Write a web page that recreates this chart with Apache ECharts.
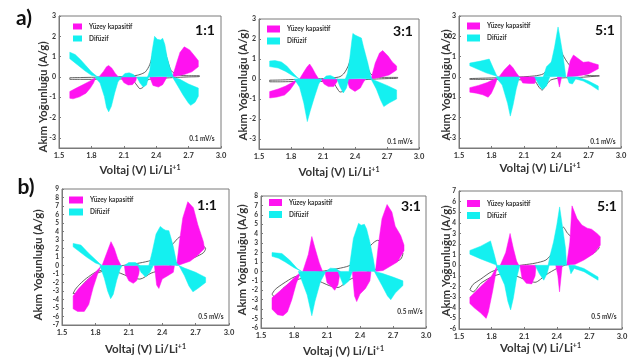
<!DOCTYPE html>
<html><head><meta charset="utf-8">
<script src="https://cdn.jsdelivr.net/npm/echarts@6/dist/echarts.min.js"></script>
<style>html,body{margin:0;padding:0;background:#fff}#c{width:638px;height:363px}</style>
</head><body><div id="c"></div>
<script>
// ---- tick labels ----
const xTicks = [1.5, 1.8, 2.1, 2.4, 2.7, 3.0];
const yTicksA = [-3, -2, -1, 0, 1, 2, 3];
const yTicksB1 = [-7,-6,-5,-4,-3,-2,-1,0,1,2,3,4,5,6,7,8,9];
const yTicksB3 = [-6,-5,-4,-3,-2,-1,0,1,2,3,4,5,6,7,8];
const yTicksB5 = [-6,-5,-4,-3,-2,-1,0,1,2,3,4,5,6,7];
const ratios = ['1:1', '3:1', '5:1', '1:1', '3:1', '5:1'];
const rates = ['0.1 mV/s', '0.1 mV/s', '0.1 mV/s', '0.5 mV/s', '0.5 mV/s', '0.5 mV/s'];
const seriesNames = ['Yüzey kapasitif', 'Difüzif'];

// ---- panel a) 1:1 ----
const p1Mag = [
 [[1.6,-0.72],[1.66,-0.55],[1.72,-0.39],[1.78,-0.22],[1.84,-0.03],[1.82,-0.3],[1.79,-0.55],[1.75,-0.8],[1.69,-0.98],[1.63,-1.08],[1.6,-1.05]],
 [[1.87,0],[1.91,0.26],[1.94,0.5],[1.96,0.56],[1.99,0.43],[2.02,0.18],[2.05,0]],
 [[2.07,0],[2.1,-0.28],[2.14,-0.4],[2.18,-0.38],[2.21,-0.2],[2.22,0]],
 [[2.34,0],[2.37,-0.42],[2.42,-0.5],[2.46,-0.38],[2.49,-0.1],[2.5,0]],
 [[2.55,0],[2.59,0.7],[2.62,1.2],[2.66,1.48],[2.71,1.33],[2.76,1.0],[2.79,0.8],[2.79,0.5],[2.73,0.25],[2.66,0.12],[2.59,0.04]]
];
const p1Cyan = [
 [[1.6,1.22],[1.65,1.1],[1.7,0.85],[1.75,0.55],[1.8,0.25],[1.85,0.03],[1.87,0],[1.8,0.08],[1.74,0.3],[1.67,0.6],[1.6,0.9]],
 [[1.83,0],[1.88,-0.3],[1.92,-0.97],[1.94,-1.5],[1.96,-1.72],[1.985,-1.45],[2.015,-0.8],[2.045,-0.25],[2.08,0]],
 [[2.08,0],[2.11,0.17],[2.15,0.2],[2.19,0.12],[2.21,0]],
 [[2.22,0],[2.25,-0.3],[2.28,-0.5],[2.31,-0.4],[2.33,0]],
 [[2.32,0],[2.34,0.3],[2.36,1.2],[2.385,2.0],[2.41,1.85],[2.44,1.82],[2.46,1.9],[2.48,1.6],[2.5,1.0],[2.53,0.4],[2.56,0],[2.45,0.02]],
 [[2.55,0],[2.6,-0.45],[2.65,-0.9],[2.7,-1.3],[2.72,-1.4],[2.76,-1.25],[2.79,-0.95],[2.79,-0.55],[2.7,-0.35],[2.62,-0.12]]
];
const p1Line = [[1.6,-0.04],[1.7,-0.03],[1.8,-0.02],[1.9,-0.01],[2.0,0],[2.1,0.02],[2.2,0.06],[2.25,0.12],[2.3,0.25],[2.34,0.6],[2.38,1.3],[2.42,1.7],[2.46,1.6],[2.5,0.9],[2.54,0.3],[2.6,0.1],[2.7,0.06],[2.8,0.06],[2.8,0.02],[2.7,0.0],[2.6,-0.02],[2.5,-0.05],[2.4,-0.08],[2.32,-0.15],[2.28,-0.5],[2.25,-0.58],[2.22,-0.4],[2.18,-0.15],[2.1,-0.1],[2.0,-0.1],[1.9,-0.1],[1.8,-0.12],[1.7,-0.12],[1.6,-0.12],[1.6,-0.04]];

// ---- panel a) 3:1 ----
const p2Mag = [
 [[1.6,-0.63],[1.68,-0.5],[1.75,-0.35],[1.82,-0.15],[1.86,0],[1.83,-0.25],[1.79,-0.55],[1.74,-0.8],[1.67,-0.9],[1.6,-0.95]],
 [[1.88,0],[1.92,0.35],[1.95,0.6],[1.975,0.75],[2.0,0.55],[2.03,0.25],[2.06,0]],
 [[2.08,0],[2.11,-0.25],[2.15,-0.38],[2.2,-0.38],[2.23,-0.15],[2.24,0]],
 [[2.32,0],[2.35,-0.45],[2.4,-0.62],[2.45,-0.45],[2.48,-0.15],[2.5,0]],
 [[2.55,0],[2.59,0.8],[2.63,1.3],[2.66,1.42],[2.71,1.15],[2.75,0.85],[2.79,0.65],[2.79,0.45],[2.72,0.2],[2.63,0.08]]
];
const p2Cyan = [
 [[1.6,0.9],[1.65,0.92],[1.71,0.85],[1.76,0.65],[1.81,0.35],[1.86,0.08],[1.88,0],[1.82,0.15],[1.75,0.38],[1.68,0.55],[1.6,0.62]],
 [[1.83,0],[1.88,-0.4],[1.92,-1.2],[1.953,-2.13],[1.98,-1.6],[2.02,-0.9],[2.06,-0.25],[2.09,0]],
 [[2.1,0],[2.13,0.15],[2.17,0.18],[2.2,0.1],[2.22,0]],
 [[2.23,0],[2.26,-0.4],[2.29,-0.7],[2.32,-0.45],[2.34,0]],
 [[2.31,0],[2.33,0.3],[2.35,1.0],[2.37,1.9],[2.38,2.28],[2.4,2.2],[2.43,2.12],[2.46,2.05],[2.48,1.6],[2.52,0.8],[2.55,0.1],[2.56,0],[2.45,0.02]],
 [[2.55,0],[2.6,-0.5],[2.64,-1.05],[2.67,-1.38],[2.72,-1.2],[2.79,-1.0],[2.79,-0.55],[2.7,-0.32],[2.6,-0.1]]
];
const p2Line = [[1.6,-0.06],[1.7,-0.05],[1.8,-0.03],[1.9,-0.02],[2.0,0],[2.1,0.02],[2.2,0.06],[2.26,0.12],[2.3,0.3],[2.34,0.7],[2.38,1.4],[2.42,1.8],[2.46,1.7],[2.5,1.0],[2.54,0.3],[2.6,0.1],[2.7,0.08],[2.8,0.08],[2.8,0.04],[2.7,0.02],[2.6,0.0],[2.5,-0.03],[2.4,-0.07],[2.33,-0.15],[2.29,-0.6],[2.26,-0.65],[2.23,-0.45],[2.19,-0.15],[2.1,-0.12],[2.0,-0.12],[1.9,-0.12],[1.8,-0.13],[1.7,-0.14],[1.6,-0.14],[1.6,-0.06]];

// ---- panel a) 5:1 ----
const p3Mag = [
 [[1.6,-0.53],[1.68,-0.42],[1.76,-0.28],[1.83,-0.1],[1.86,0],[1.83,-0.45],[1.8,-0.8],[1.77,-1.0],[1.72,-0.88],[1.66,-0.8],[1.6,-0.75]],
 [[1.87,0],[1.92,0.35],[1.97,0.62],[2.0,0.45],[2.03,0.2],[2.06,0]],
 [[2.06,0],[2.09,-0.3],[2.15,-0.32],[2.2,-0.32],[2.22,0]],
 [[2.41,0],[2.43,-0.5],[2.45,0]],
 [[2.5,0],[2.53,0.8],[2.56,1.08],[2.6,0.92],[2.65,0.72],[2.7,0.75],[2.75,0.66],[2.79,0.6],[2.79,0.4],[2.7,0.15],[2.6,0.04]]
];
const p3Cyan = [
 [[1.6,0.68],[1.7,0.78],[1.78,0.88],[1.82,0.4],[1.85,0.05],[1.87,0],[1.75,0.2],[1.6,0.55]],
 [[1.84,0],[1.9,-0.4],[1.95,-1.3],[1.975,-1.93],[2.0,-1.4],[2.03,-0.6],[2.06,0]],
 [[2.2,0],[2.24,-0.4],[2.27,-0.62],[2.31,-0.45],[2.34,0]],
 [[2.28,0],[2.31,0.5],[2.355,0.74],[2.385,1.47],[2.417,2.46],[2.43,2.1],[2.46,1.15],[2.49,0],[2.4,0.02]],
 [[2.5,0],[2.52,-0.3],[2.55,-0.35],[2.58,-0.1],[2.65,-0.2],[2.72,-0.4],[2.79,-0.65],[2.79,-0.45],[2.7,-0.2],[2.6,0]]
];
const p3Line = [[1.6,-0.08],[1.8,-0.05],[2.0,-0.02],[2.2,0.05],[2.28,0.15],[2.34,0.5],[2.38,1.0],[2.42,1.6],[2.46,1.1],[2.52,0.6],[2.6,0.25],[2.68,0.08],[2.8,0.05],[2.8,0.02],[2.6,-0.03],[2.45,-0.05],[2.35,-0.15],[2.3,-0.45],[2.27,-0.65],[2.24,-0.5],[2.2,-0.2],[2.1,-0.15],[1.9,-0.12],[1.6,-0.12],[1.6,-0.08]];

// ---- panel b) 1:1 ----
const p4Mag = [
 [[1.6,-3.6],[1.65,-2.7],[1.72,-1.8],[1.8,-0.8],[1.85,-0.1],[1.82,-1.0],[1.78,-2.6],[1.74,-4.6],[1.7,-5.4],[1.64,-5.4],[1.6,-5.1]],
 [[1.86,0],[1.9,1.4],[1.94,2.8],[1.97,2.0],[2.0,0.8],[2.03,0]],
 [[2.06,0],[2.07,-1.0],[2.1,-1.8],[2.14,-2.1],[2.17,-1.8],[2.19,-1.0],[2.2,0]],
 [[2.33,0],[2.35,-2.3],[2.37,-2.7],[2.4,-1.6],[2.45,-1.2],[2.5,-0.8],[2.51,0]],
 [[2.53,0],[2.555,2.8],[2.585,5.6],[2.63,7.5],[2.68,6.8],[2.72,4.8],[2.77,2.8],[2.78,2.0],[2.72,1.2],[2.65,0.5],[2.56,0.1]]
];
const p4Cyan = [
 [[1.6,2.6],[1.67,2.4],[1.74,1.44],[1.8,0.7],[1.84,0.2],[1.86,0],[1.8,0.3],[1.72,1.0],[1.65,1.7],[1.6,2.2]],
 [[1.84,0],[1.88,-1.5],[1.91,-3.0],[1.937,-3.9],[1.96,-3.4],[1.99,-1.8],[2.02,-0.5],[2.04,0]],
 [[2.06,0],[2.1,0.35],[2.16,0.35],[2.2,0]],
 [[2.18,0],[2.21,-0.8],[2.25,-1.35],[2.29,-0.8],[2.32,0]],
 [[2.28,0],[2.31,1.6],[2.345,3.7],[2.383,4.6],[2.41,4.3],[2.43,4.15],[2.46,4.1],[2.48,3.2],[2.5,2.2],[2.53,0.3],[2.55,0],[2.42,0.05]],
 [[2.55,0],[2.6,-1.2],[2.64,-2.4],[2.676,-3.1],[2.72,-2.7],[2.79,-2.0],[2.79,-1.4],[2.7,-0.8],[2.6,-0.3]]
];
const p4Line = [[1.6,-3.3],[1.62,-2.8],[1.66,-2.2],[1.72,-1.5],[1.8,-0.8],[1.9,-0.4],[2.0,-0.1],[2.1,0.1],[2.2,0.3],[2.3,0.6],[2.4,1.2],[2.5,2.6],[2.55,3.3],[2.6,3.5],[2.66,3.0],[2.72,2.5],[2.77,2.3],[2.79,2.0],[2.77,1.5],[2.7,1.0],[2.6,0.5],[2.5,0.2],[2.45,-0.2],[2.4,-0.5],[2.3,-0.9],[2.2,-1.6],[2.12,-1.4],[2.0,-0.8],[1.9,-0.6],[1.8,-1.0],[1.72,-1.8],[1.66,-2.7],[1.62,-3.3],[1.6,-3.3]];

// ---- panel b) 3:1 ----
const p5Mag = [
 [[1.6,-2.8],[1.65,-2.3],[1.72,-1.6],[1.8,-0.7],[1.86,-0.1],[1.82,-1.3],[1.78,-3.0],[1.74,-4.3],[1.7,-4.7],[1.65,-4.6],[1.6,-4.0]],
 [[1.88,0],[1.93,1.8],[1.962,3.7],[1.99,2.5],[2.03,0.9],[2.06,0]],
 [[2.08,0],[2.1,-1.2],[2.14,-1.6],[2.17,-2.0],[2.2,-1.4],[2.22,0]],
 [[2.33,0],[2.35,-2.6],[2.37,-3.2],[2.4,-2.4],[2.45,-1.8],[2.49,-1.0],[2.5,0]],
 [[2.54,0],[2.57,3.1],[2.6,5.6],[2.646,7.1],[2.69,6.3],[2.72,4.8],[2.77,3.8],[2.8,2.8],[2.8,2.2],[2.74,1.0],[2.61,0.1]]
];
const p5Cyan = [
 [[1.6,2.0],[1.69,1.9],[1.76,1.2],[1.83,0.3],[1.87,0],[1.8,0.4],[1.72,1.0],[1.66,1.4],[1.6,1.6]],
 [[1.84,0],[1.92,-2.5],[1.962,-4.7],[1.99,-3.2],[2.04,-1.1],[2.09,0]],
 [[2.09,0],[2.13,0.35],[2.18,0.3],[2.22,0]],
 [[2.2,0],[2.25,-1.5],[2.3,-1.0],[2.33,0]],
 [[2.3,0],[2.31,1.0],[2.34,3.5],[2.387,5.1],[2.41,4.9],[2.44,5.0],[2.46,4.5],[2.49,3.1],[2.52,1.4],[2.54,0],[2.42,0.05]],
 [[2.53,0],[2.6,-1.5],[2.65,-2.6],[2.68,-3.0],[2.72,-2.3],[2.79,-1.5],[2.79,-1.0],[2.7,-0.6],[2.6,-0.2]]
];
const p5Line = [[1.6,-2.4],[1.63,-1.9],[1.7,-1.3],[1.8,-0.6],[1.9,-0.3],[2.0,-0.1],[2.1,0.1],[2.2,0.3],[2.3,0.6],[2.4,1.4],[2.5,2.8],[2.56,3.3],[2.62,3.0],[2.7,2.4],[2.76,2.1],[2.79,1.9],[2.77,1.3],[2.7,0.9],[2.6,0.4],[2.5,0.1],[2.4,-0.4],[2.3,-0.9],[2.2,-1.7],[2.12,-1.5],[2.0,-0.9],[1.9,-0.7],[1.8,-1.0],[1.7,-1.8],[1.63,-2.8],[1.6,-2.4]];

// ---- panel b) 5:1 ----
const p6Mag = [
 [[1.6,-3.0],[1.7,-2.0],[1.8,-1.0],[1.85,-0.1],[1.81,-2.4],[1.77,-4.4],[1.75,-5.0],[1.7,-4.5],[1.64,-4.0],[1.6,-3.6]],
 [[1.88,0],[1.93,1.2],[1.97,3.0],[2.0,1.6],[2.03,0.4],[2.05,0]],
 [[2.06,0],[2.08,-1.2],[2.12,-1.7],[2.17,-1.75],[2.2,-1.0],[2.21,0]],
 [[2.39,0],[2.41,-1.0],[2.425,-2.5],[2.44,-1.0],[2.45,0]],
 [[2.49,0],[2.52,2.2],[2.54,5.6],[2.586,4.4],[2.63,3.8],[2.68,3.5],[2.72,3.4],[2.77,3.0],[2.8,2.7],[2.8,1.9],[2.74,1.1],[2.65,0.5],[2.57,0.1]]
];
const p6Cyan = [
 [[1.6,1.4],[1.7,1.8],[1.79,2.3],[1.82,1.2],[1.85,0],[1.7,0.6],[1.6,1.05]],
 [[1.84,0],[1.92,-1.85],[1.95,-3.4],[1.975,-4.2],[2.0,-3.1],[2.03,-1.2],[2.06,0]],
 [[2.2,0],[2.24,-0.8],[2.28,-1.4],[2.31,-0.8],[2.33,0]],
 [[2.32,0],[2.34,1.0],[2.37,2.2],[2.4,3.8],[2.426,5.5],[2.45,3.8],[2.48,1.6],[2.49,0]],
 [[2.51,0],[2.53,-0.8],[2.56,-0.3],[2.65,-0.6],[2.78,-1.4],[2.78,-1.1],[2.65,-0.3],[2.56,0]]
];
const p6Line = [[1.6,-2.3],[1.63,-1.8],[1.7,-1.3],[1.8,-0.6],[1.9,-0.3],[2.0,-0.1],[2.1,0.05],[2.2,0.2],[2.3,0.5],[2.36,1.2],[2.42,2.8],[2.46,3.6],[2.5,3.0],[2.56,2.5],[2.62,2.2],[2.7,2.0],[2.76,1.9],[2.79,1.7],[2.76,1.3],[2.68,0.8],[2.58,0.3],[2.5,0.1],[2.4,-0.3],[2.3,-0.9],[2.2,-1.6],[2.12,-1.4],[2.0,-0.9],[1.9,-0.8],[1.8,-1.1],[1.7,-1.7],[1.63,-2.5],[1.6,-2.3]];

// ---- assembly ----
const MAG = '#ff12f0', CYAN = '#14f0f0', FONT = 'Lato';
// [magenta polys, cyan polys, CV loop, tick labels, min, max]
const panelData = [
  [p1Mag, p1Cyan, p1Line, yTicksA, -3.5, 3],
  [p2Mag, p2Cyan, p2Line, yTicksA, -3.5, 3],
  [p3Mag, p3Cyan, p3Line, yTicksA, -3.5, 3],
  [p4Mag, p4Cyan, p4Line, yTicksB1, -7, 9],
  [p5Mag, p5Cyan, p5Line, yTicksB3, -6, 8],
  [p6Mag, p6Cyan, p6Line, yTicksB5, -6, 7]
];
const layout = [
  {g:[59,16,162,132], yn:43, yc:97, xg:16, lg:[73,23,9,6,5], r:[205,30], s:[202,139]},
  {g:[259,19,160,130], yn:243, yc:85, xg:17, lg:[267,25.5,13,7,5], r:[403,31], s:[400,141.5]},
  {g:[459,16,162,132], yn:446, yc:85, xg:14, lg:[467,22.5,13,7,5], r:[605,30], s:[603,141.5]},
  {g:[62,189,167,136], yn:38, yc:265, xg:18, lg:[69,196.5,14,7,5], r:[207,205], s:[211,317]},
  {g:[261,196,165,132], yn:242, yc:260, xg:17, lg:[269,199,13,7,5], r:[411,206], s:[410,312]},
  {g:[459,191,163,138], yn:446, yc:261, xg:12, lg:[467,200,13,7,5], r:[607,206], s:[604,317]}
];

const grid = [], xAxis = [], yAxis = [], series = [], legend = [], graphic = [];
const lblStyle = {fontFamily: FONT, fontWeight: 'bold', color: '#333'};

function polySeries(name, polys, color, gi) {
  return {
    type: 'custom', name: name, xAxisIndex: gi, yAxisIndex: gi, z: 3,
    silent: true, animation: false,
    itemStyle: {color: color},
    data: polys.map(p => p[0]),
    renderItem: function (params, api) {
      const pts = polys[params.dataIndex].map(pt => api.coord(pt));
      return {type: 'polygon', shape: {points: pts}, style: {fill: color, stroke: color, lineWidth: 0.5}};
    }
  };
}

panelData.forEach((pd, i) => {
  const L = layout[i];
  const ticks = pd[3];
  grid.push({left: L.g[0], top: L.g[1], width: L.g[2], height: L.g[3], show: true,
    borderColor: '#7a7a7a', borderWidth: 1, backgroundColor: '#fff'});
  xAxis.push({type: 'value', gridIndex: i, min: 1.5, max: 3.0, interval: 0.3,
    name: 'Voltaj (V) Li/Li{s|+1}', nameLocation: 'middle', nameGap: L.xg,
    nameTextStyle: {fontFamily: FONT, fontWeight: 'bold', fontSize: 11.5, color: '#333',
      rich: {s: {fontFamily: FONT, fontWeight: 'bold', fontSize: 7, color: '#333', verticalAlign: 'top', padding: [0,0,5,0]}}},
    axisLine: {show: true, onZero: false, lineStyle: {color: '#7a7a7a'}},
    axisTick: {show: true, inside: true, length: 2, lineStyle: {color: '#7a7a7a'}},
    axisLabel: Object.assign({fontSize: 7.5, margin: 4, formatter: v => v.toFixed(1)}, lblStyle),
    splitLine: {show: false}});
  yAxis.push({type: 'value', gridIndex: i, min: pd[4], max: pd[5],
    axisLine: {show: true, onZero: false, lineStyle: {color: '#7a7a7a'}},
    axisTick: {show: true, inside: true, length: 2, lineStyle: {color: '#7a7a7a'}, customValues: ticks},
    axisLabel: Object.assign({show: true, fontSize: i < 3 ? 7 : 6.5, margin: 3, customValues: ticks,
      formatter: v => String(Math.round(v))}, lblStyle),
    splitLine: {show: false}});
  series.push({type: 'line', xAxisIndex: i, yAxisIndex: i, data: pd[2], showSymbol: false,
    smooth: 0.25, z: 2, silent: true, animation: false,
    lineStyle: {color: '#3a3a3a', width: 0.8}});
  series.push(polySeries(seriesNames[0], pd[0], MAG, i));
  series.push(polySeries(seriesNames[1], pd[1], CYAN, i));
  legend.push({left: L.lg[0], top: L.lg[1], orient: 'vertical', itemWidth: L.lg[2], itemHeight: L.lg[3],
    itemGap: L.lg[4], padding: 0, selectedMode: false,
    textStyle: {fontFamily: FONT, fontWeight: 'bold', fontSize: 6.5, color: '#333', padding: [0,0,0,2]},
    data: [{name: seriesNames[0], icon: 'rect', itemStyle: {color: MAG}},
           {name: seriesNames[1], icon: 'rect', itemStyle: {color: CYAN}}]});
  // y-axis title, rotated
  graphic.push({type: 'text', x: L.yn, y: L.yc, rotation: Math.PI / 2, z: 10,
    style: {text: 'Akım Yoğunluğu (A/g)', font: 'bold 11.5px ' + FONT, fill: '#333', textAlign: 'center', textVerticalAlign: 'middle'}});
  graphic.push({type: 'text', x: L.r[0], y: L.r[1], z: 10,
    style: {text: ratios[i], font: 'bold 14px ' + FONT, fill: '#111', textAlign: 'center', textVerticalAlign: 'middle'}});
  graphic.push({type: 'text', x: L.s[0], y: L.s[1], z: 10,
    style: {text: rates[i], font: 'bold 6.5px ' + FONT, fill: '#333', textAlign: 'center', textVerticalAlign: 'middle'}});
});
graphic.push({type: 'text', x: 24, y: 18, style: {text: 'a)', font: 'bold 21px ' + FONT, fill: '#111', textAlign: 'center', textVerticalAlign: 'middle'}});
graphic.push({type: 'text', x: 26, y: 187, style: {text: 'b)', font: 'bold 21px ' + FONT, fill: '#111', textAlign: 'center', textVerticalAlign: 'middle'}});

const chart = echarts.init(document.getElementById('c'), null, {renderer: 'canvas'});
chart.setOption({animation: false, backgroundColor: '#fff', grid, xAxis, yAxis, series, legend, graphic});
</script></body></html>
